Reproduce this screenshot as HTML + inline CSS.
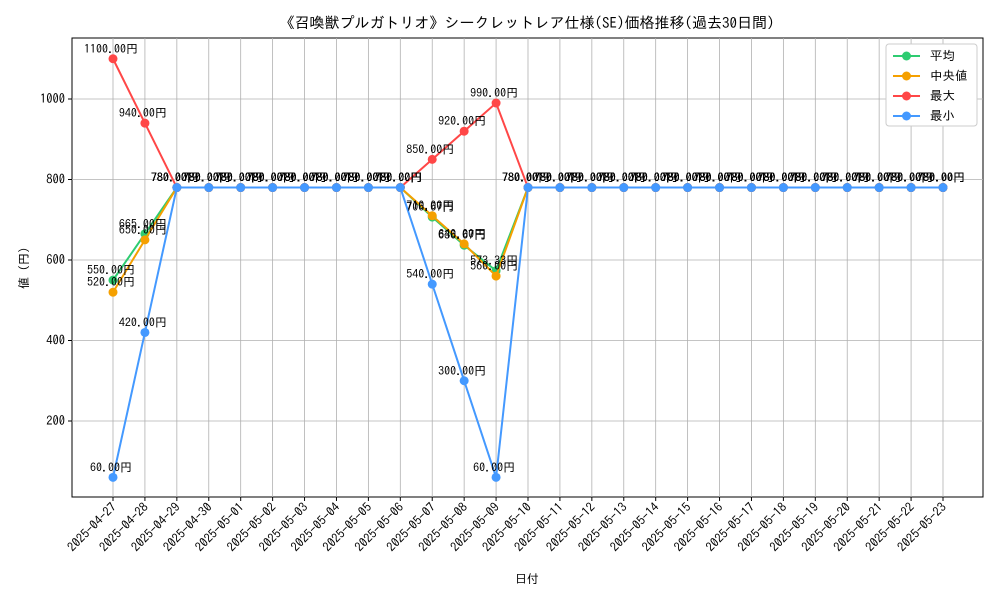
<!DOCTYPE html>
<html><head><meta charset="utf-8"><style>
body{margin:0;background:#fff;font-family:"IPAGothic","Noto Sans CJK JP",sans-serif;}
text{font-family:"IPAGothic","Noto Sans CJK JP",sans-serif;}
</style></head><body>
<svg id="chart" width="1000" height="600" xmlns="http://www.w3.org/2000/svg">
<text x="527" y="28" font-size="15" text-anchor="middle">《召喚獣プルガトリオ》シークレットレア仕様(SE)価格推移(過去30日間)</text>
<rect x="72" y="38" width="911" height="459" fill="none" stroke="#000" stroke-width="1"/>
<g id="grid"></g><g id="axes"></g><g id="series"></g>
<text x="527" y="583" font-size="12" text-anchor="middle">日付</text>
<text x="28" y="268" font-size="12" text-anchor="middle" transform="rotate(-90 28 268)">値 (円)</text>
</svg>
<script>
const dates=["2025-04-27","2025-04-28","2025-04-29","2025-04-30","2025-05-01","2025-05-02","2025-05-03","2025-05-04","2025-05-05","2025-05-06","2025-05-07","2025-05-08","2025-05-09","2025-05-10","2025-05-11","2025-05-12","2025-05-13","2025-05-14","2025-05-15","2025-05-16","2025-05-17","2025-05-18","2025-05-19","2025-05-20","2025-05-21","2025-05-22","2025-05-23"];
const avgVals=[550,665,780,780,780,780,780,780,780,780,706.67,636.67,573.33,780,780,780,780,780,780,780,780,780,780,780,780,780,780];
const medVals=[520,650,780,780,780,780,780,780,780,780,710,640,560,780,780,780,780,780,780,780,780,780,780,780,780,780,780];
const maxVals=[1100,940,780,780,780,780,780,780,780,780,850,920,990,780,780,780,780,780,780,780,780,780,780,780,780,780,780];
const minVals=[60,420,780,780,780,780,780,780,780,780,540,300,60,780,780,780,780,780,780,780,780,780,780,780,780,780,780];
const yTicks=[200,400,600,800,1000];
const seriesNames=["平均","中央値","最大","最小"];
const NS="http://www.w3.org/2000/svg";
const X=i=>113+i*(830/(dates.length-1));
const Y=v=>501.5-v*0.4025;
function mk(t,a,p){const e=document.createElementNS(NS,t);for(const k in a)e.setAttribute(k,a[k]);p.appendChild(e);return e;}
const grid=document.getElementById('grid'),axes=document.getElementById('axes'),ser=document.getElementById('series');
dates.forEach((d,i)=>{
 const g=mk('line',{x1:X(i),x2:X(i),y1:38,y2:497,stroke:'#b0b0b0','stroke-width':0.8},grid);
 
 
 const tk=mk('line',{x1:X(i),x2:X(i),y1:497,y2:501,stroke:'#000'},axes);
 
 
 const t=mk('text',{x:X(i)+4,y:508,'font-size':12.5,'text-anchor':'end',transform:`rotate(-45 ${X(i)+4} 508)`},axes);
 t.textContent=d;
 
 
});
yTicks.forEach(v=>{
 const g=mk('line',{x1:72,x2:983,y1:Y(v),y2:Y(v),stroke:'#b0b0b0','stroke-width':0.8},grid);
 
 
 const tk=mk('line',{x1:68,x2:72,y1:Y(v),y2:Y(v),stroke:'#000'},axes);
 
 
 const t=mk('text',{x:65,y:Y(v)+4,'font-size':12.5,'text-anchor':'end'},axes);
 t.textContent=v;
 
 
});
const all=[avgVals,medVals,maxVals,minVals];
const colors=['#2ecc71','#f5a000','#ff4747','#4499ff'];
all.forEach((vals,s)=>{
 const g=mk('g',{},ser);
 
 
 const pl=mk('polyline',{points:vals.map((v,i)=>X(i)+','+Y(v)).join(' '),fill:'none',stroke:colors[s],'stroke-width':2},g);
 
 
 vals.forEach((v,i)=>{
  const c=mk('circle',{cx:X(i),cy:Y(v),r:4.5,fill:colors[s]},g);
  
  
 });
});
all.forEach(vals=>vals.forEach((v,i)=>{
 const t=mk('text',{x:X(i)-2,y:Y(v)-6,'font-size':12,'text-anchor':'middle'},ser);
 t.textContent=v.toFixed(2)+'円';
 
 
}));
const lg=mk('g',{},document.getElementById('chart'));


mk('rect',{x:886,y:44,width:91,height:82,fill:'#fff',stroke:'#ccc',rx:3},lg);
seriesNames.forEach((n,s)=>{
 const y=56+s*20;
 const l=mk('line',{x1:893,x2:920,y1:y,y2:y,stroke:colors[s],'stroke-width':2},lg);
 
 
 mk('circle',{cx:906.5,cy:y,r:4.5,fill:colors[s]},lg);
 const t=mk('text',{x:930,y:y+4,'font-size':12.5},lg);
 t.textContent=n;
 
 
});
</script>
</body></html>
